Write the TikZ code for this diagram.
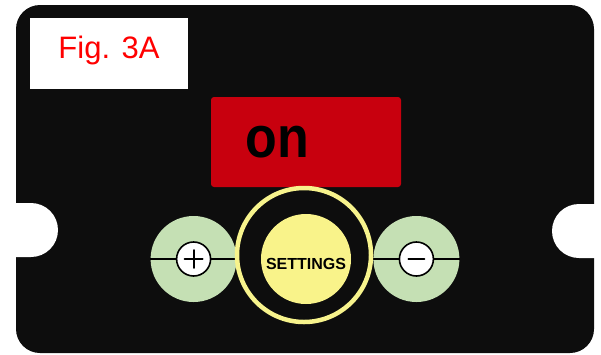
\documentclass[tikz,border=0pt]{standalone}
\usepackage{fontspec}
\setmainfont{Liberation Sans}
\usetikzlibrary{positioning}

\definecolor{boardblack}{HTML}{0D0D0D}
\definecolor{figred}{HTML}{FF0000}
\definecolor{dispred}{HTML}{C8000E}
\definecolor{knobgreen}{HTML}{C5E0B4}
\definecolor{setyellow}{HTML}{F9F38A}
\definecolor{ringyellow}{HTML}{F7F38C}

\begin{document}
\begin{tikzpicture}[x=1pt, y=-1pt,
    knob/.style={circle, fill=knobgreen, minimum size=86pt, inner sep=0pt},
    signbox/.style={circle, draw=black, line width=1.6pt, fill=white, minimum size=34pt, inner sep=0pt},
    signbar/.style={line width=1.8pt, line cap=round}]
      \useasboundingbox (0,0) rectangle (601,354);
      % board with the two side notches
      \fill[boardblack, rounded corners=24pt] (16,5) rectangle (594,353);
      \fill[white] (15,203) -- (31,203) arc[start angle=-90, end angle=90, radius=27] -- (15,257) -- cycle;
      \fill[white] (595,204) -- (579,204) arc[start angle=270, end angle=90, radius=27] -- (595,258) -- cycle;
      \node (figlabel) [fill=white, minimum width=158pt, minimum height=71pt, text height=22pt, text depth=13pt,
        text=figred, font=\fontsize{31}{31}\selectfont] at (109,53.5) {Fig. 3A};
      \node (display) [fill=dispred, rounded corners=3pt, minimum width=190pt, minimum height=90pt, inner sep=0pt] at (306,142) {};
      \node (ontext) [anchor=base, yscale=1.12, font=\bfseries\fontsize{52}{52}\selectfont] at (277.5,157) {on};
      \node (settings) [circle, fill=setyellow, minimum size=90pt, inner sep=0pt, text height=20pt, text depth=0pt,
        font=\bfseries\fontsize{16}{16}\selectfont] at (306,259) {SETTINGS};
      \node (plus) [knob, left=24pt of settings] {};
      \node (minus) [knob, right=22pt of settings] {};
      \node (plussign) [signbox] at (plus) {};
      \node (minussign) [signbox] at (minus) {};
      \draw [line width=1.5pt] (plus.west) -- (plussign.west);
      \draw [line width=1.5pt] (plussign.east) -- (plus.east);
      \draw [line width=1.5pt] (minus.west) -- (minussign.west);
      \draw [line width=1.5pt] (minussign.east) -- (minus.east);
      \draw [signbar] ([xshift=-9pt]plussign.center) -- ([xshift=9pt]plussign.center);
      \draw [signbar] ([yshift=-9pt]plussign.center) -- ([yshift=9pt]plussign.center);
      \draw [signbar] ([xshift=-8pt]minussign.center) -- ([xshift=8pt]minussign.center);
      \node (ring) [circle, draw=ringyellow, line width=4.5pt, minimum size=134pt, inner sep=0pt] at (304,255) {};
  \end{tikzpicture}
\end{document}
